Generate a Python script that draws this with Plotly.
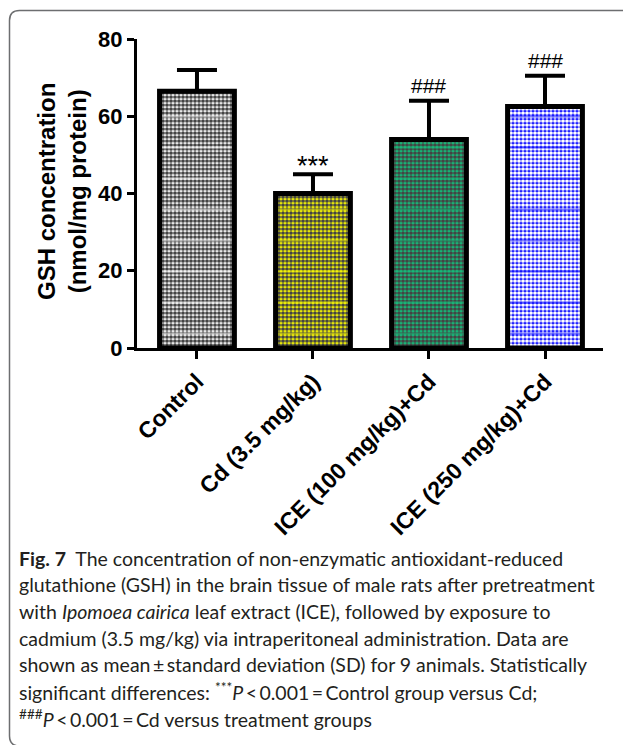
import plotly.graph_objects as go

# ---- data ----
groups = ["Control", "Cd (3.5 mg/kg)", "ICE (100 mg/kg)+Cd", "ICE (250 mg/kg)+Cd"]
gsh_mean = [66.5, 40.0, 54.0, 62.5]
gsh_sd = [5.5, 5.0, 10.0, 8.0]
sig_marks = ["", "***", "###", "###"]
bar_colors = ["#FFFFFF", "#FFFF00", "#12C27C", "#0000FF"]
y_ticks = [0, 20, 40, 60, 80]

caption_lines = [
    "<b>Fig. 7</b>  The concentration of non-enzymatic antioxidant-reduced",
    "glutathione (GSH) in the brain tissue of male rats after pretreatment",
    "with <i>Ipomoea cairica</i> leaf extract (ICE), followed by exposure to",
    "cadmium (3.5 mg/kg) via intraperitoneal administration. Data are",
    "shown as mean\u2009\u00b1\u2009standard deviation (SD) for 9 animals. Statistically",
    "significant differences: <sup>***</sup><i>P</i>\u2009<\u20090.001\u2009=\u2009Control group versus Cd;",
    "<sup>###</sup><i>P</i>\u2009<\u20090.001\u2009=\u2009Cd versus treatment groups",
]

W, H = 623, 745
L, R, T, B = 137, 603, 39, 348  # plot area in pixels
pw, ph = R - L, B - T


def xp(px):
    return (px - L) / pw


def yp(py):
    return (B - py) / ph


x_idx = list(range(len(groups)))
bw = 0.645

fig = go.Figure()
# checkerboard-like fill: coloured background with black dots
fig.add_trace(go.Bar(
    x=x_idx, y=gsh_mean, width=bw,
    marker=dict(color=bar_colors, line=dict(width=0),
                pattern=dict(shape=".", size=4, solidity=0.68,
                             fgcolor="#000000", fgopacity=1, fillmode="overlay")),
    showlegend=False, hoverinfo="skip"))
# horizontal stripe lines
fig.add_trace(go.Bar(
    x=x_idx, y=gsh_mean, width=bw,
    marker=dict(color="rgba(0,0,0,0)", line=dict(width=0),
                pattern=dict(shape="-", size=31, solidity=0.07,
                             fgcolor=bar_colors, fillmode="overlay")),
    showlegend=False, hoverinfo="skip"))
# outline + error bars
fig.add_trace(go.Bar(
    x=x_idx, y=gsh_mean, width=bw,
    marker=dict(color="rgba(0,0,0,0)", line=dict(width=5, color="black")),
    error_y=dict(type="data", array=gsh_sd, arrayminus=[0] * len(gsh_sd),
                 symmetric=False, color="black", thickness=4, width=20),
    showlegend=False, hoverinfo="skip"))

# significance marks
for i, (m, s, lab) in enumerate(zip(gsh_mean, gsh_sd, sig_marks)):
    if lab:
        star = lab.startswith("*")
        fig.add_annotation(x=i, y=m + s, text=lab, showarrow=False,
                           xanchor="center", yanchor="bottom",
                           yshift=-9 if star else 2,
                           font=dict(family="Liberation Sans, Arial",
                                     size=27 if star else 21, color="black"))

# y axis title
fig.add_annotation(xref="paper", yref="paper", x=xp(62), y=yp(192),
                   text="<b>GSH concentration<br>(nmol/mg protein)</b>",
                   textangle=-90, showarrow=False, xanchor="center", yanchor="middle",
                   font=dict(family="Liberation Sans, Arial", size=24, color="black"))

# caption
cap_y0, cap_dy = 558, 26.7
for k, line in enumerate(caption_lines):
    fig.add_annotation(xref="paper", yref="paper", x=xp(17), y=yp(cap_y0 + k * cap_dy),
                       text=line, showarrow=False, xanchor="left", yanchor="middle",
                       align="left",
                       font=dict(family="Lato, Noto Sans, sans-serif", size=19.5, color="#231F20"))

# rounded frame (top and left, open to the right/bottom)
fx, fy, rr = 9.5, 10.5, 10
path = (f"M {xp(W + 5)} {yp(fy)} L {xp(fx + rr)} {yp(fy)} "
        f"Q {xp(fx)} {yp(fy)} {xp(fx)} {yp(fy + rr)} "
        f"L {xp(fx)} {yp(H + 1 - rr)} Q {xp(fx)} {yp(H + 1)} {xp(fx + rr)} {yp(H + 1)}")
fig.add_shape(type="path", xref="paper", yref="paper", path=path,
              line=dict(color="#6d6e70", width=1.5))

fig.update_layout(
    width=W, height=H,
    margin=dict(l=L, r=W - R, t=T, b=H - B, pad=0),
    barmode="overlay",
    plot_bgcolor="white", paper_bgcolor="white",
    xaxis=dict(range=[-0.517, 3.5], tickmode="array", tickvals=x_idx, ticktext=["<b>%s</b>" % g for g in groups],
               tickangle=-45, ticks="outside", ticklen=8, tickwidth=3, tickcolor="black",
               showline=True, linewidth=3, linecolor="black", showgrid=False, zeroline=False,
               automargin=False,
               tickfont=dict(family="Liberation Sans, Arial", size=23, color="black")),
    yaxis=dict(range=[0, 80], tickmode="array", tickvals=y_ticks, ticktext=["<b>%d</b>" % v for v in y_ticks],
               ticks="outside", ticklen=7, tickwidth=3, tickcolor="black",
               showline=True, linewidth=3, linecolor="black", showgrid=False, zeroline=False,
               automargin=False,
               tickfont=dict(family="Liberation Sans, Arial", size=22, color="black")),
)

fig.write_html("out.html")
